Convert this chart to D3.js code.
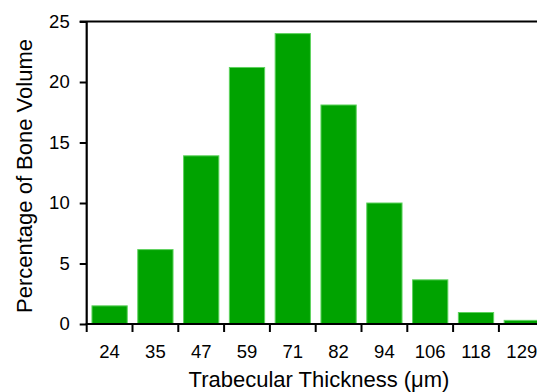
<!DOCTYPE html>
<html>
<head>
<meta charset="utf-8">
<script src="https://cdn.jsdelivr.net/npm/d3@7"></script>
<style>
  html, body { margin: 0; padding: 0; background: #fff; overflow: hidden; }
  svg { display: block; font-family: "Liberation Sans", Arial, sans-serif; }
</style>
</head>
<body>
<svg id="chart" width="537" height="392"></svg>
<script>
// Trabecular thickness distribution
const categories = ["24", "35", "47", "59", "71", "82", "94", "106", "118", "129"];
const percentages = [1.5, 6.15, 13.9, 21.2, 24.0, 18.1, 10.0, 3.65, 0.95, 0.3];
const yTicks = [0, 5, 10, 15, 20, 25];
const xTitle = "Trabecular Thickness (μm)";
const yTitle = "Percentage of Bone Volume";

const svg = d3.select("#chart");
const plotLeft = 86.7, plotBottom = 324, plotTop = 21.5;
const step = 45.8;
const tickFont = 18.5, titleFont = 22;

const x = d3.scaleBand()
  .domain(categories)
  .range([plotLeft, plotLeft + step * categories.length])
  .paddingInner(0.23)
  .paddingOuter(0.115);

const y = d3.scaleLinear().domain([0, 25]).range([plotBottom, plotTop]);

// Bars
svg.append("g").selectAll("rect")
  .data(categories)
  .join("rect")
  .attr("x", d => x(d))
  .attr("width", x.bandwidth())
  .attr("y", (d, i) => y(percentages[i]))
  .attr("height", (d, i) => y(0) - y(percentages[i]))
  .attr("fill", "#00a300")
  .attr("stroke", "#5ed25e")
  .attr("stroke-width", 1);

// Y axis
const yAxis = svg.append("g")
  .attr("transform", `translate(${plotLeft},0)`)
  .call(d3.axisLeft(y).tickValues(yTicks).tickSize(7).tickPadding(10));
yAxis.select(".domain").remove();
yAxis.selectAll("line").attr("stroke", "#000").attr("stroke-width", 2);
yAxis.selectAll("text").attr("font-size", tickFont).attr("fill", "#000")
  .attr("font-family", "Liberation Sans, Arial, sans-serif");

// X axis labels
const xAxis = svg.append("g")
  .attr("transform", `translate(0,${plotBottom})`)
  .call(d3.axisBottom(x).tickSize(0).tickPadding(20.5));
xAxis.select(".domain").remove();
xAxis.selectAll("text").attr("font-size", tickFont).attr("fill", "#000")
  .attr("font-family", "Liberation Sans, Arial, sans-serif");

// Category boundary ticks on the x axis
svg.append("g").selectAll("line")
  .data(categories)
  .join("line")
  .attr("x1", d => x(d) - x.step() * x.paddingOuter())
  .attr("x2", d => x(d) - x.step() * x.paddingOuter())
  .attr("y1", plotBottom)
  .attr("y2", plotBottom + 8)
  .attr("stroke", "#000")
  .attr("stroke-width", 2);

// Frame lines: left axis, baseline, top border
const frame = svg.append("g").attr("stroke", "#000").attr("stroke-width", 2.2);
frame.append("line").attr("x1", plotLeft).attr("x2", plotLeft).attr("y1", plotTop).attr("y2", plotBottom + 1);
frame.append("line").attr("x1", plotLeft - 1).attr("x2", 537).attr("y1", plotBottom).attr("y2", plotBottom);
frame.append("line").attr("x1", plotLeft - 7).attr("x2", 537).attr("y1", plotTop).attr("y2", plotTop);

// Axis titles
svg.append("text")
  .attr("x", 319).attr("y", 387)
  .attr("text-anchor", "middle")
  .attr("font-size", titleFont)
  .attr("fill", "#000")
  .text(xTitle);

svg.append("text")
  .attr("transform", `translate(32,176) rotate(-90)`)
  .attr("text-anchor", "middle")
  .attr("font-size", titleFont)
  .attr("fill", "#000")
  .text(yTitle);
</script>
</body>
</html>
